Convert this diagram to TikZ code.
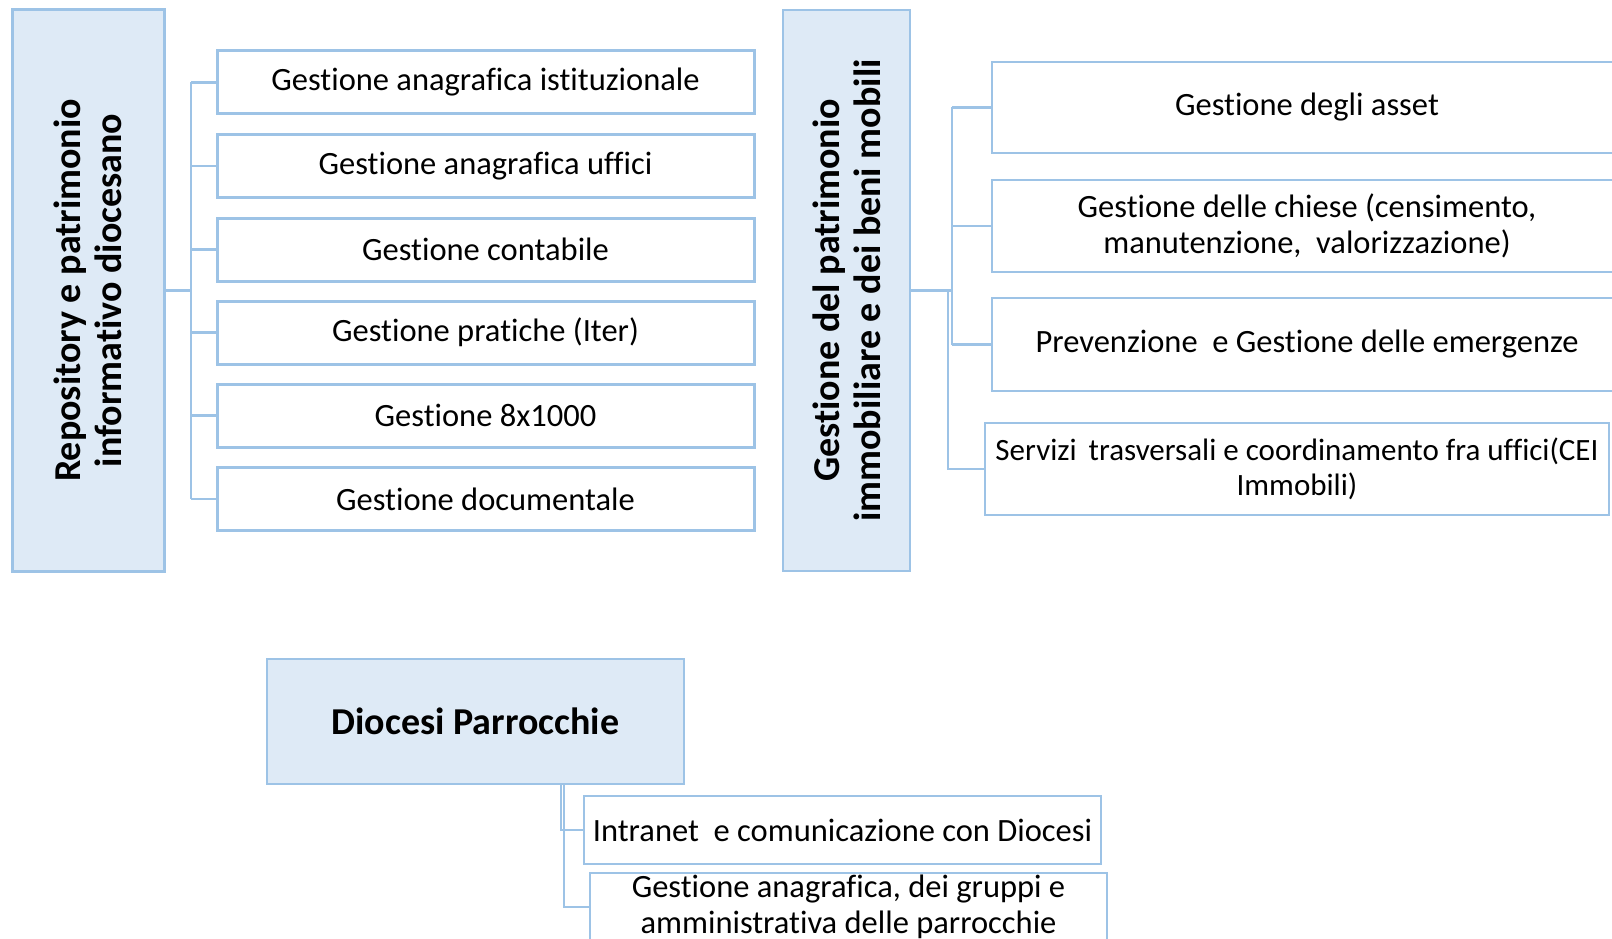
\documentclass[tikz,border=0pt]{standalone}
\usepackage{fontspec}
\setmainfont[Ligatures=NoCommon]{Carlito}
\definecolor{bfill}{RGB}{222,234,246}
\definecolor{bline}{RGB}{157,195,230}
\tikzset{
  head/.style={draw=bline, fill=bfill, line width=3pt, inner sep=0pt, align=center,
    font=\fontsize{38}{41}\selectfont\bfseries},
  headtext/.style={inner sep=0pt, align=center, font=\fontsize{38}{41}\selectfont\bfseries},
  leaf/.style={draw=bline, fill=white, line width=3pt, inner sep=0pt, align=center,
    font=\fontsize{32.5}{35.5}\selectfont},
  conn/.style={draw=bline, line width=2.2pt}
}
\begin{document}
\begin{tikzpicture}[x=1pt,y=-1pt]
\useasboundingbox (0,0) rectangle (1612,939);
\clip (0,0) rectangle (1612,939);
% left group
\node[head, minimum width=152pt, minimum height=561pt] (rep) at (88,290.5) {};
\node[headtext, rotate=90] (repl) at (rep.center) {Repository e patrimonio\\informativo diocesano};
\node[leaf, minimum width=537pt, minimum height=63pt] (c1) at (485.5,82.5) {Gestione anagrafica istituzionale};
\node[leaf, minimum width=537pt, minimum height=63pt] (c2) at (485.5,166) {Gestione anagrafica uffici};
\node[leaf, minimum width=537pt, minimum height=63pt] (c3) at (485.5,249.5) {Gestione contabile};
\node[leaf, minimum width=537pt, minimum height=63pt] (c4) at (485.5,332.5) {Gestione pratiche (Iter)};
\node[leaf, minimum width=537pt, minimum height=63pt] (c5) at (485.5,415.5) {Gestione 8x1000};
\node[leaf, minimum width=537pt, minimum height=63pt] (c6) at (485.5,499) {Gestione documentale};
\coordinate (jl) at (191,0);
\draw[conn] (rep.east) -- (jl |- rep.east);
\draw[conn] (jl |- c1.west) -- (jl |- c6.west);
\foreach \c in {c1,c2,c3,c4,c5,c6} \draw[conn] (jl |- \c.west) -- (\c.west);
% middle group
\node[head, line width=2.6pt, minimum width=127pt, minimum height=561pt] (ges) at (846.5,290.5) {};
\node[headtext, rotate=90] (gesl) at (ges.center) {Gestione del patrimonio\\immobiliare e dei beni mobili};
\node[leaf, line width=2.6pt, minimum width=630pt, minimum height=91pt] (r1) at (1307,107.5) {Gestione degli asset};
\node[leaf, line width=2.6pt, minimum width=630pt, minimum height=92pt] (r2) at (1307,226) {Gestione delle chiese (censimento,\\manutenzione,\ \ valorizzazione)};
\node[leaf, line width=2.6pt, minimum width=630pt, minimum height=93pt] (r3) at (1307,344.5) {Prevenzione\ \ e Gestione delle emergenze};
\node[leaf, line width=2.6pt, minimum width=624pt, minimum height=92pt, font=\fontsize{31}{35.5}\selectfont] (r4) at (1297,469) {Servizi\hspace{12pt}trasversali e coordinamento fra uffici(CEI\\Immobili)};
\coordinate (jr) at (952,0);
\coordinate (jr2) at (948,0);
\draw[conn] (ges.east) -- (jr |- ges.east);
\draw[conn] (jr |- r1.west) -- (jr |- r3.west);
\foreach \c in {r1,r2,r3} \draw[conn] (jr |- \c.west) -- (\c.west);
\draw[conn] (jr2 |- ges.east) |- (r4.west);
% bottom group
\node[head, line width=2.6pt, minimum width=417pt, minimum height=125pt] (dio) at (475.5,721.5) {Diocesi Parrocchie};
\node[leaf, line width=2.6pt, minimum width=517pt, minimum height=68pt] (b1) at (842.5,830) {Intranet\ \ e comunicazione con Diocesi};
\node[leaf, line width=2.6pt, minimum width=517pt, minimum height=68pt] (b2) at (848.5,907) {Gestione anagrafica, dei gruppi e\\amministrativa delle parrocchie};
\coordinate (jb1) at (561,0);
\coordinate (jb2) at (564,0);
\draw[conn] (jb1 |- dio.south) |- (b1.west);
\draw[conn] (jb2 |- dio.south) |- (b2.west);
\end{tikzpicture}
\end{document}
